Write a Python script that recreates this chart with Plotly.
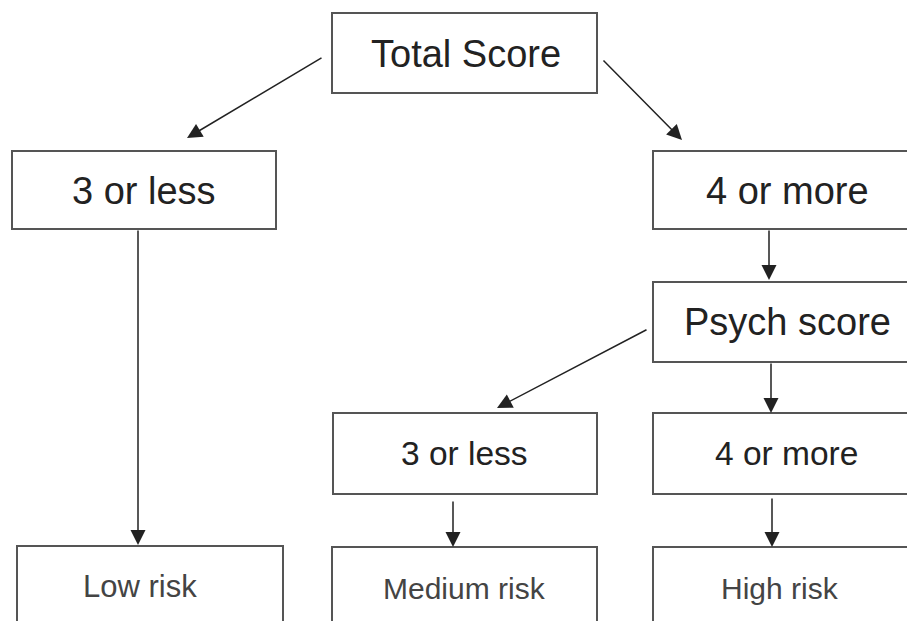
import plotly.graph_objects as go

# Node labels
labels = ["Total Score", "3 or less", "4 or more", "Psych score",
          "3 or less", "4 or more", "Low risk", "Medium risk", "High risk"]
# Box geometry (pixel coordinates, y downward)
box_x0 = [332, 12, 653, 653, 333, 653, 17, 332, 653]
box_x1 = [597, 276, 921, 921, 597, 921, 283, 597, 921]
box_y0 = [13, 151, 151, 282, 413, 413, 546, 547, 547]
box_y1 = [93, 229, 229, 362, 494, 494, 680, 680, 680]
# Label positions and sizes
text_x = [466, 144, 787, 787, 464, 786, 140, 464, 780]
text_y = [54, 191, 191, 322, 453, 453, 586, 588, 588]
text_size = [38, 38, 38, 38, 33.5, 33.5, 31, 30, 30]
text_color = ["#222", "#222", "#222", "#222", "#222", "#222", "#444", "#444", "#444"]

# Arrows: tail -> tip
arrow_tail_x = [323, 602, 769, 648, 771, 138, 453, 772]
arrow_tail_y = [57, 59, 229, 329, 362, 229, 500, 497]
arrow_tip_x = [187, 682, 769, 497, 771, 138, 453, 772]
arrow_tip_y = [138, 140, 280, 408, 413, 545, 547, 547]

W, H = 907, 621
fig = go.Figure()
fig.add_trace(go.Scatter(x=[0, W], y=[0, H], mode="markers",
                         marker=dict(opacity=0), hoverinfo="skip", showlegend=False))

for i in range(len(labels)):
    fig.add_shape(type="rect", xref="x", yref="y",
                  x0=box_x0[i], x1=box_x1[i], y0=box_y0[i], y1=box_y1[i],
                  line=dict(color="#555555", width=2), fillcolor="white", layer="below")
    fig.add_annotation(x=text_x[i], y=text_y[i], xref="x", yref="y", text=labels[i],
                       showarrow=False,
                       font=dict(family="Liberation Sans, Arial, sans-serif",
                                 size=text_size[i], color=text_color[i]),
                       xanchor="center", yanchor="middle")

for i in range(len(arrow_tip_x)):
    fig.add_annotation(x=arrow_tip_x[i], y=arrow_tip_y[i], ax=arrow_tail_x[i], ay=arrow_tail_y[i],
                       xref="x", yref="y", axref="x", ayref="y", text="",
                       showarrow=True, arrowhead=2, arrowsize=2.0, arrowwidth=1.5,
                       arrowcolor="#222222", standoff=0, startstandoff=0)

fig.update_xaxes(range=[0, W], visible=False, fixedrange=True)
fig.update_yaxes(range=[H, 0], visible=False, fixedrange=True)
fig.update_layout(width=W, height=H, margin=dict(l=0, r=0, t=0, b=0),
                  plot_bgcolor="white", paper_bgcolor="white", showlegend=False)
fig.write_html("out.html", config={"displayModeBar": False},
               post_script="document.body.style.margin='0';document.body.style.overflow='hidden';")
